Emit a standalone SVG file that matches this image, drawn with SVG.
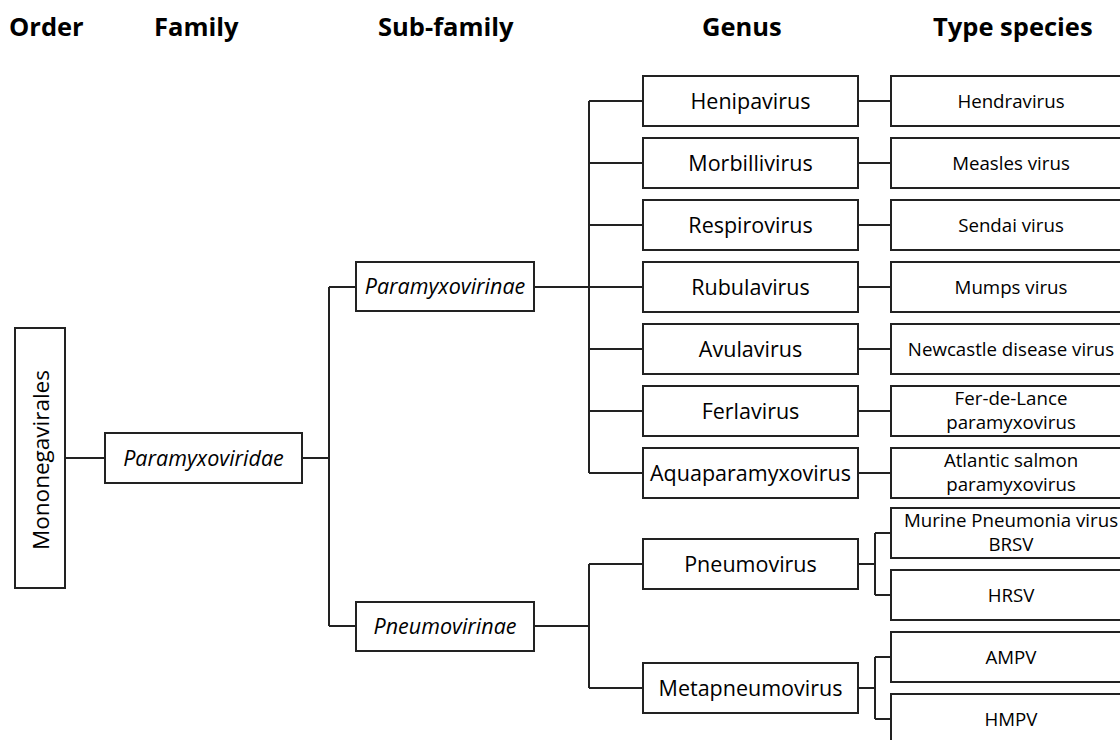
<svg xmlns="http://www.w3.org/2000/svg" width="1120" height="740" viewBox="0 0 1120 740">
<style>
.bg{fill:#fff}
.box{fill:#fff;stroke:#222;stroke-width:2}
.ln{fill:none;stroke:#222;stroke-width:2}
.h{font-family:"Open Sans","Liberation Sans",sans-serif;font-weight:bold;font-size:25.5px;fill:#000}
.g{font-family:"Open Sans","Liberation Sans",sans-serif;font-size:21.5px;fill:#000;text-anchor:middle}
.i{font-family:"Open Sans","Liberation Sans",sans-serif;font-size:21.5px;font-style:italic;fill:#000;text-anchor:middle}
.t{font-family:"Open Sans","Liberation Sans",sans-serif;font-size:18.7px;fill:#000;text-anchor:middle}
</style>
<rect class="bg" x="0" y="0" width="1120" height="740"/>
<g id="headers">
<text class="h" x="9" y="36">Order</text>
<text class="h" x="154" y="36">Family</text>
<text class="h" x="378" y="36">Sub-family</text>
<text class="h" x="702" y="36">Genus</text>
<text class="h" x="933" y="36">Type species</text>
</g>
<g id="connectors">
<path class="ln" d="M65 458H105"/>
<path class="ln" d="M302 458H329M329 287V626M329 287H356M329 626H356"/>
<path class="ln" d="M534 287H589M589 101V473M589 101H643M589 163H643M589 225H643M589 287H643M589 349H643M589 411H643M589 473H643"/>
<path class="ln" d="M858 101H891M858 163H891M858 225H891M858 287H891M858 349H891M858 411H891M858 473H891"/>
<path class="ln" d="M534 626H589M589 564V688M589 564H643M589 688H643"/>
<path class="ln" d="M858 564H875M875 533V595M875 533H891M875 595H891"/>
<path class="ln" d="M858 688H875M875 657V719M875 657H891M875 719H891"/>
</g>
<g id="mononegavirales">
<rect class="box" x="15" y="328" width="50" height="260"/>
<text class="g" style="font-size:22.5px" transform="translate(49 460) rotate(-90)">Mononegavirales</text>
</g>
<g id="paramyxoviridae">
<rect class="box" x="105" y="433" width="197" height="50"/>
<text class="i" x="203.5" y="465.5">Paramyxoviridae</text>
</g>
<g id="paramyxovirinae">
<rect class="box" x="356" y="262" width="178" height="49"/>
<text class="i" x="445" y="294">Paramyxovirinae</text>
</g>
<g id="pneumovirinae">
<rect class="box" x="356" y="602" width="178" height="49"/>
<text class="i" x="445" y="634">Pneumovirinae</text>
</g>
<g id="henipavirus"><rect class="box" x="643" y="76" width="215" height="50"/><text class="g" x="750.5" y="108.5">Henipavirus</text></g>
<g id="morbillivirus"><rect class="box" x="643" y="138" width="215" height="50"/><text class="g" x="750.5" y="170.5">Morbillivirus</text></g>
<g id="respirovirus"><rect class="box" x="643" y="200" width="215" height="50"/><text class="g" x="750.5" y="232.5">Respirovirus</text></g>
<g id="rubulavirus"><rect class="box" x="643" y="262" width="215" height="50"/><text class="g" x="750.5" y="294.5">Rubulavirus</text></g>
<g id="avulavirus"><rect class="box" x="643" y="324" width="215" height="50"/><text class="g" x="750.5" y="356.5">Avulavirus</text></g>
<g id="ferlavirus"><rect class="box" x="643" y="386" width="215" height="50"/><text class="g" x="750.5" y="418.5">Ferlavirus</text></g>
<g id="aquaparamyxovirus"><rect class="box" x="643" y="448" width="215" height="50"/><text class="g" x="750.5" y="480.5">Aquaparamyxovirus</text></g>
<g id="pneumovirus"><rect class="box" x="643" y="539" width="215" height="50"/><text class="g" x="750.5" y="571.5">Pneumovirus</text></g>
<g id="metapneumovirus"><rect class="box" x="643" y="663" width="215" height="50"/><text class="g" x="750.5" y="695.5">Metapneumovirus</text></g>
<g id="hendravirus"><rect class="box" x="891" y="76" width="240" height="50"/><text class="t" x="1011" y="107.5">Hendravirus</text></g>
<g id="measles"><rect class="box" x="891" y="138" width="240" height="50"/><text class="t" x="1011" y="169.5">Measles virus</text></g>
<g id="sendai"><rect class="box" x="891" y="200" width="240" height="50"/><text class="t" x="1011" y="231.5">Sendai virus</text></g>
<g id="mumps"><rect class="box" x="891" y="262" width="240" height="50"/><text class="t" x="1011" y="293.5">Mumps virus</text></g>
<g id="newcastle"><rect class="box" x="891" y="324" width="240" height="50"/><text class="t" x="1011" y="355.5">Newcastle disease virus</text></g>
<g id="fer-de-lance"><rect class="box" x="891" y="386" width="240" height="50"/><text class="t" x="1011" y="405">Fer-de-Lance</text><text class="t" x="1011" y="428.5">paramyxovirus</text></g>
<g id="atlantic"><rect class="box" x="891" y="448" width="240" height="50"/><text class="t" x="1011" y="467">Atlantic salmon</text><text class="t" x="1011" y="490.5">paramyxovirus</text></g>
<g id="murine"><rect class="box" x="891" y="508" width="240" height="50"/><text class="t" x="1011" y="527">Murine Pneumonia virus</text><text class="t" x="1011" y="550.5">BRSV</text></g>
<g id="hrsv"><rect class="box" x="891" y="570" width="240" height="50"/><text class="t" x="1011" y="601.5">HRSV</text></g>
<g id="ampv"><rect class="box" x="891" y="632" width="240" height="50"/><text class="t" x="1011" y="663.5">AMPV</text></g>
<g id="hmpv"><rect class="box" x="891" y="694" width="240" height="50"/><text class="t" x="1011" y="725.5">HMPV</text></g>
</svg>
